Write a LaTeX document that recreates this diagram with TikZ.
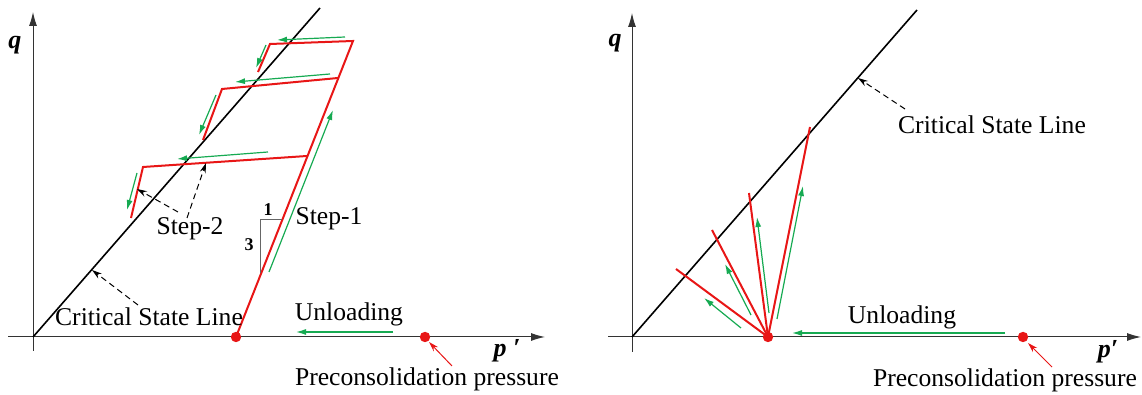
\documentclass[tikz,border=0pt]{standalone}
\usepackage{fontspec}
\setmainfont{Liberation Serif}
\usetikzlibrary{arrows.meta,calc}
\definecolor{pathred}{RGB}{232,22,22}
\definecolor{loadgreen}{RGB}{22,170,82}

\begin{document}
\begin{tikzpicture}[x=0.5pt, y=0.5pt,
    axis/.style={draw=black!80, line width=0.5pt, -{Latex[length=7pt,width=4pt]}},
    csl/.style={draw=black, line width=0.8pt},
    redpath/.style={draw=pathred, line width=1pt},
    greenarrow/.style={draw=loadgreen, line width=0.6pt, -{Latex[length=5pt,width=3pt]}},
    dashptr/.style={draw=black, line width=0.5pt, dash pattern=on 3pt off 2pt, -{Stealth[length=5pt,width=3pt]}},
    redptr/.style={draw=pathred, line width=0.5pt, -{Stealth[length=5pt,width=3pt]}},
    txt/.style={font=\fontsize{12.8}{15}\selectfont, inner sep=0pt},
    axlabel/.style={font=\fontsize{13}{15}\selectfont\bfseries\itshape, inner sep=0pt}]
    \useasboundingbox (0,0) rectangle (1142,395);

    % left: stepwise loading
    \coordinate (O1) at (33,58); \coordinate (xL0) at (8,58); \coordinate (xL1) at (545,58);
    \coordinate (yL0) at (33,44); \coordinate (yL1) at (33,383); \coordinate (cslL) at (320,387);
    \draw[axis] (xL0) -- (xL1); \draw[axis] (yL0) -- (yL1);
    \draw[csl] (O1) -- (cslL);

    \coordinate (A) at (236,58); \coordinate (P1) at (425,58);
    \coordinate (T1) at (353,354); \coordinate (T1a) at (270,351); \coordinate (T1b) at (258,323);
    \coordinate (M2) at (338,317); \coordinate (M2a) at (222,306); \coordinate (M2b) at (203,255);
    \coordinate (M3) at (307,239); \coordinate (M3a) at (143,228); \coordinate (M3b) at (131,177);
    \draw[redpath] (A) -- (T1) -- (T1a) -- (T1b);
    \draw[redpath] (M2) -- (M2a) -- (M2b);
    \draw[redpath] (M3) -- (M3a) -- (M3b);

    \foreach \xa/\ya/\xb/\yb in {269/123/333/285, 345/358/277/355, 266/350/256/327, 330/321/235/313,
        216/300/199/260, 268/243/177/236, 137/222/127/185, 393/63/296/63} {
        \draw[greenarrow] (\xa,\ya) -- (\xb,\yb);
    }

    % slope 1:3
    \coordinate (Sb) at (260,122); \coordinate (Sc) at (260,175); \coordinate (Sr) at (282,175);
    \draw[black!60, line width=0.5pt] (Sb) -- (Sc) -- (Sr);
    \node[font=\fontsize{9}{10}\selectfont\bfseries, inner sep=0pt] (one) at (268,185) {1};
    \node[font=\fontsize{9}{10}\selectfont\bfseries, inner sep=0pt] (three) at (249,150) {3};

    \node[txt] (cslLtxt) at (149,78) {Critical State Line};
    \node[txt] (unL) at (349,81) {Unloading};
    \node[txt] (pcL) at (427,16) {Preconsolidation pressure};
    \node[txt] (st1) at (329,176) {Step-1};
    \node[txt] (st2) at (190,166) {Step-2};
    \node[axlabel] (qL) at (15,350) {q};
    \node[axlabel] (pL) at (507,44) {p ′};

    \coordinate (cL0) at (138,90); \coordinate (cL1) at (92,125);
    \coordinate (s20) at (178,183); \coordinate (s21) at (137,206);
    \coordinate (s22) at (187,177); \coordinate (s23) at (206,232);
    \coordinate (rL0) at (452,29); \coordinate (rL1) at (429,53);
    \draw[dashptr] (cL0) -- (cL1);
    \draw[dashptr] (s20) -- (s21); \draw[dashptr] (s22) -- (s23);
    \draw[redptr] (rL0) -- (rL1);

    % right: radial loading
    \coordinate (O2) at (632,58); \coordinate (xR0) at (608,58); \coordinate (xR1) at (1141,58);
    \coordinate (yR0) at (632,43); \coordinate (yR1) at (632,382); \coordinate (cslR) at (917,385);
    \draw[axis] (xR0) -- (xR1); \draw[axis] (yR0) -- (yR1);
    \draw[csl] (O2) -- (cslR);

    \coordinate (B) at (768,58); \coordinate (P2) at (1023,58);
    \foreach \r/\x/\y in {R1/810/268, R2/749/202, R3/712/165, R4/676/126} {
        \coordinate (\r) at (\x,\y);
        \draw[redpath] (B) -- (\r);
    }
    \foreach \xa/\ya/\xb/\yb in {777/76/803/209, 769/82/757/178, 751/80/725/131, 741/67/704/97, 1005/62/792/62} {
        \draw[greenarrow] (\xa,\ya) -- (\xb,\yb);
    }

    \node[txt] (cslRtxt) at (992,270) {Critical State Line};
    \node[txt] (unR) at (902,78) {Unloading};
    \node[txt] (pcR) at (1005,15) {Preconsolidation pressure};
    \node[axlabel] (qR) at (615,352) {q};
    \node[axlabel] (pR) at (1108,43) {p′};

    \coordinate (cR0) at (905,286); \coordinate (cR1) at (858,317);
    \coordinate (rR0) at (1052,28); \coordinate (rR1) at (1028,52);
    \draw[dashptr] (cR0) -- (cR1);
    \draw[redptr] (rR0) -- (rR1);

    \foreach \p in {A,P1,B,P2} {
        \fill[pathred] (\p) circle (2.6pt);
    }
\end{tikzpicture}
\end{document}
